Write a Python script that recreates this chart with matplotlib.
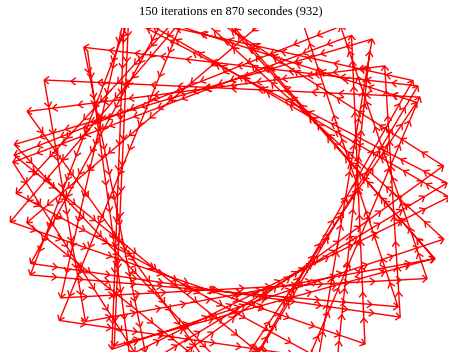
import numpy as np
import matplotlib.pyplot as plt
from matplotlib.collections import LineCollection

# tour vertices in visiting order: angle around the ring centre (degrees)
# and distance from it, in units of the empty hole's half-axes
angle = [133, 244, 2, 119, 215, 334, 58, 170, 288, 28,
         147, 225, 340, 97, 189, 309, 54, 172, 242, 358,
         117, 205, 323, 73, 190, 272, 31, 133, 249, 7,
         101, 220, 296, 49, 167, 273, 33, 119, 236, 346,
         104, 202, 321, 41, 157, 269, 27, 117, 236, 340,
         97, 181, 299, 47]
radius = [1.92, 2.05, 2.02, 2.00, 1.90, 2.04, 1.95, 2.02, 2.06, 2.00,
          2.04, 1.88, 2.03, 1.98, 2.05, 2.00, 1.93, 2.02, 1.86, 2.04,
          2.00, 2.03, 1.96, 2.05, 1.90, 2.02, 2.04, 1.97, 2.03, 2.00,
          1.92, 2.05, 1.89, 2.02, 2.04, 1.96, 2.03, 2.00, 1.94, 2.05,
          2.02, 1.98, 2.04, 1.91, 2.03, 2.00, 1.95, 2.04, 1.90, 2.02,
          2.03, 1.97, 2.05, 1.91]

title = "150 iterations en 870 secondes (932)"

cx, cy = 229, 166      # ring centre
hx, hy = 108, 99       # hole half-axes
step = 26              # distance between arrow heads along a leg
head_len = 6
head_ang = np.radians(38)

th = np.radians(angle)
r = np.array(radius)
x = cx + hx * r * np.cos(th)
y = cy + hy * r * np.sin(th)

fig = plt.figure(figsize=(4.5, 3.56), dpi=100)
ax = fig.add_axes([5 / 450, 4 / 356, 443 / 450, 324 / 356])
ax.set_xlim(5, 448)
ax.set_ylim(4, 328)
ax.axis('off')

ax.plot(x, y, color='red', lw=1.0)

# open "v" heads spread along every leg, the last one on the next vertex
heads = []
for i in range(len(x) - 1):
    dx, dy = x[i + 1] - x[i], y[i + 1] - y[i]
    L = np.hypot(dx, dy)
    bx, by = -dx / L, -dy / L
    n = max(1, int(round(L / step)))
    for j in range(1, n + 1):
        tx, ty = x[i] + dx * j / n, y[i] + dy * j / n
        for a in (head_ang, -head_ang):
            ex = bx * np.cos(a) - by * np.sin(a)
            ey = bx * np.sin(a) + by * np.cos(a)
            heads.append([(tx, ty), (tx + head_len * ex, ty + head_len * ey)])

ax.add_collection(LineCollection(heads, colors='red', linewidths=1.0))

fig.text(231 / 450, 1 - 11 / 356, title, ha='center', va='center',
         family='Liberation Serif', fontsize=9)

fig.savefig('out.png', dpi=100)
